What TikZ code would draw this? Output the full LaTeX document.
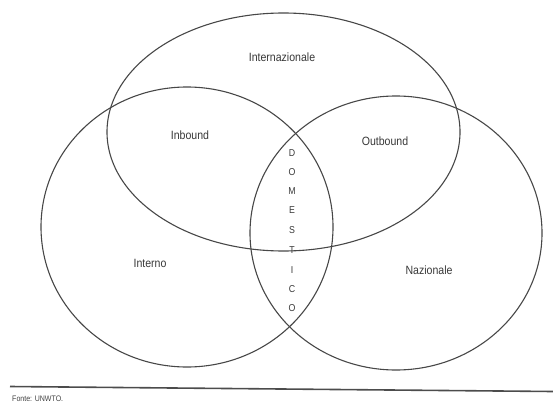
\documentclass[tikz,border=0pt]{standalone}
\usepackage{fontspec}
\setmainfont[FakeStretch=0.88]{Liberation Sans}
\begin{document}
\begin{tikzpicture}[x=1pt,y=-1pt,
  venn/.style={draw=black!72,line width=1.1pt},
  lbl/.style={font=\fontsize{12}{12}\selectfont,text=black!78,inner sep=0pt},
  dom/.style={font=\fontsize{10}{10}\selectfont,text=black!78,inner sep=0pt}]
\useasboundingbox (0,0) rectangle (553,409);
% circles
\draw[venn] (283.5,132) ellipse [x radius=176.5, y radius=119];
\draw[venn] (187,227) ellipse [x radius=146, y radius=140];
\draw[venn] (396,233) ellipse [x radius=146, y radius=137];
% labels
\node[lbl] (intl) at (282,57) {Internazionale};
\node[lbl] (inb) at (190,135) {Inbound};
\node[lbl] (outb) at (385,141) {Outbound};
\node[lbl] (inte) at (150,263) {Interno};
\node[lbl] (naz) at (429,270) {Nazionale};
\foreach \l/\yy [count=\i] in {D/153,O/172,M/191,E/210,S/230,T/250,I/270,C/289,O/308}
  \node[dom] (dom\i) at (292,\yy) {\l};
% rule and source
\coordinate (rl) at (10,386.5);
\coordinate (rr) at (553,391.5);
\draw[black!70,line width=1.6pt] (rl) -- (rr);
\node[font=\fontsize{8}{8}\selectfont,text=black!75,anchor=west,inner sep=0pt] (src) at (12,399) {Fonte: UNWTO.};
\end{tikzpicture}
\end{document}
